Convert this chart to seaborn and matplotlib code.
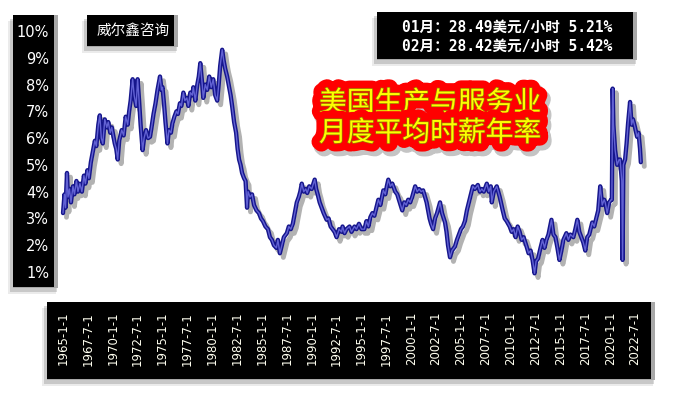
import matplotlib
matplotlib.use("Agg")
import matplotlib.pyplot as plt
import matplotlib.patheffects as pe
from matplotlib.patches import Rectangle
import seaborn as sns

# wage growth (yoy %), vertices
years = [
    1965.00, 1965.15, 1965.25, 1965.40, 1965.50, 1965.65, 1965.80,
    1966.00, 1966.15, 1966.35, 1966.50, 1966.70, 1966.90,
    1967.10, 1967.25, 1967.45, 1967.60, 1967.80,
    1968.00, 1968.20, 1968.35, 1968.55, 1968.70, 1968.85,
    1969.00, 1969.20, 1969.40, 1969.55, 1969.75, 1969.90,
    1970.05, 1970.20, 1970.35, 1970.50, 1970.65, 1970.90,
    1971.10, 1971.30, 1971.50, 1971.65, 1971.80,
    1972.00, 1972.15, 1972.35, 1972.50, 1972.65, 1972.80,
    1973.00, 1973.15, 1973.35, 1973.55, 1973.75, 1973.90,
    1974.10, 1974.30, 1974.50, 1974.75, 1974.90,
    1975.00, 1975.15, 1975.30, 1975.50, 1975.65, 1975.85,
    1976.00, 1976.20, 1976.40, 1976.55, 1976.75, 1976.90,
    1977.10, 1977.25, 1977.45, 1977.60, 1977.80,
    1978.00, 1978.10, 1978.30, 1978.50, 1978.65, 1978.80, 1978.95,
    1979.10, 1979.30, 1979.50, 1979.70, 1979.90,
    1980.10, 1980.30, 1980.50, 1980.65, 1980.80,
    1981.00, 1981.15, 1981.30, 1981.50, 1981.70, 1981.85,
    1982.00, 1982.20, 1982.40, 1982.55, 1982.70, 1982.85,
    1983.00, 1983.20, 1983.35, 1983.50, 1983.60, 1983.80,
    1984.00, 1984.20, 1984.45, 1984.70, 1984.90,
    1985.10, 1985.35, 1985.60, 1985.80,
    1986.00, 1986.20, 1986.45, 1986.60, 1986.80,
    1987.00, 1987.20, 1987.50, 1987.70, 1987.90,
    1988.10, 1988.30, 1988.50, 1988.70, 1988.85,
    1989.00, 1989.20, 1989.40, 1989.55, 1989.75,
    1990.00, 1990.30, 1990.45, 1990.60, 1990.80,
    1991.00, 1991.20, 1991.50, 1991.70, 1991.90,
    1992.10, 1992.30, 1992.50, 1992.75,
    1993.00, 1993.10, 1993.30, 1993.50, 1993.80,
    1994.00, 1994.30, 1994.50, 1994.75,
    1995.00, 1995.30, 1995.50, 1995.70, 1995.90,
    1996.10, 1996.30, 1996.50, 1996.70, 1996.90,
    1997.20, 1997.40, 1997.55, 1997.70, 1997.90,
    1998.10, 1998.20, 1998.40, 1998.60, 1998.85,
    1999.10, 1999.30, 1999.50, 1999.70, 1999.90,
    2000.10, 2000.40, 2000.60, 2000.80,
    2001.00, 2001.20, 2001.40, 2001.55, 2001.70, 2001.85,
    2002.00, 2002.20, 2002.40, 2002.60, 2002.90,
    2003.10, 2003.40, 2003.55, 2003.70, 2003.90,
    2004.10, 2004.40, 2004.60, 2004.80,
    2005.00, 2005.20, 2005.40, 2005.60, 2005.80,
    2006.00, 2006.20, 2006.40, 2006.70, 2006.90,
    2007.10, 2007.30, 2007.60, 2007.80,
    2008.00, 2008.10, 2008.30, 2008.60, 2008.90,
    2009.20, 2009.40, 2009.60, 2009.90,
    2010.10, 2010.30, 2010.50, 2010.70, 2010.90,
    2011.10, 2011.30, 2011.60, 2011.80,
    2012.00, 2012.20, 2012.40, 2012.55, 2012.75,
    2013.00, 2013.20, 2013.40, 2013.60, 2013.80,
    2014.10, 2014.30, 2014.50, 2014.70, 2014.90,
    2015.10, 2015.30, 2015.60, 2015.80,
    2016.00, 2016.30, 2016.50, 2016.70, 2016.90,
    2017.10, 2017.30, 2017.50, 2017.70, 2017.90,
    2018.20, 2018.40, 2018.60, 2018.80,
    2019.00, 2019.20, 2019.40, 2019.50, 2019.70, 2019.90,
    2020.10, 2020.17, 2020.25, 2020.33, 2020.50, 2020.70, 2020.90,
    2021.00, 2021.17, 2021.25, 2021.33, 2021.50, 2021.65, 2021.80,
    2022.00, 2022.15, 2022.30, 2022.50, 2022.70, 2022.85,
    2023.00, 2023.08,
]
wage_yoy = [
    3.2, 3.9, 3.4, 4.7, 3.8, 4.1, 3.6,
    4.2, 3.9, 4.4, 4.0, 4.3, 4.0,
    4.6, 4.3, 4.8, 4.5, 5.1,
    5.5, 5.9, 5.7, 6.5, 6.85, 6.0,
    5.8, 6.7, 6.4, 6.6, 6.2, 6.4,
    6.1, 5.8, 5.6, 5.2, 5.9, 6.3,
    6.1, 6.8, 6.5, 7.0, 7.4,
    8.2, 7.6, 7.2, 8.2, 7.4, 6.5,
    5.55, 6.0, 6.3, 6.0, 6.05, 6.4,
    6.9, 7.3, 7.8, 8.3, 7.8,
    7.9, 7.3, 6.6, 5.8, 6.3, 6.2,
    6.55, 6.8, 7.0, 6.9, 7.3, 7.2,
    7.7, 7.4, 7.5, 7.2, 7.7,
    7.6, 7.9, 7.4, 8.0, 8.3, 8.8, 8.2,
    7.5, 8.0, 7.8, 8.3, 7.9,
    8.2, 7.6, 7.4, 8.0, 8.7,
    9.3, 8.9, 8.6, 8.3, 7.9, 7.6,
    7.2, 6.6, 6.2, 5.6, 5.2, 5.0,
    4.7, 4.5, 4.4, 3.4, 4.0, 3.8,
    3.9, 3.5, 3.3, 3.2, 3.0,
    2.9, 2.7, 2.6, 2.3,
    2.2, 2.0, 1.9, 2.2, 1.7,
    2.0, 2.3, 2.45, 2.7, 2.6,
    2.8, 3.2, 3.6, 3.8, 4.0,
    4.3, 4.0, 4.1, 3.95, 4.2,
    4.1, 4.45, 4.1, 3.9, 3.6,
    3.4, 3.2, 2.95, 3.0, 2.7,
    2.6, 2.5, 2.3, 2.6,
    2.5, 2.7, 2.45, 2.6, 2.7,
    2.5, 2.7, 2.6, 2.8,
    2.6, 2.6, 2.9, 2.7, 3.05,
    3.2, 3.1, 3.4, 3.7, 3.5,
    4.05, 3.9, 4.2, 4.45, 4.2,
    4.3, 4.2, 4.0, 3.9, 3.6,
    3.3, 3.6, 3.5, 3.7, 3.6,
    3.8, 4.2, 4.0, 4.1,
    4.0, 4.05, 3.8, 3.6, 3.3, 3.0,
    2.8, 2.6, 3.0, 3.2, 3.6,
    3.2, 2.85, 2.5, 2.0, 1.55,
    1.8, 1.95, 2.2, 2.4,
    2.6, 2.7, 2.9, 3.3, 3.6,
    3.9, 4.2, 4.1, 4.25, 4.0,
    4.1, 4.0, 4.3, 4.0,
    4.2, 3.6, 4.0, 4.2, 3.8,
    3.3, 3.0, 2.9, 2.7,
    2.5, 2.6, 2.3, 2.7, 2.5,
    2.2, 2.3, 1.95, 1.7,
    1.8, 1.45, 0.95, 1.4, 1.5,
    1.9, 2.2, 1.9, 2.2, 2.4,
    2.95, 2.4, 2.3, 1.9, 1.45,
    1.8, 2.2, 2.45, 2.2,
    2.4, 2.3, 2.6, 2.95, 2.5,
    2.3, 2.1, 1.8, 2.3, 2.4,
    2.85, 2.7, 3.0, 3.3,
    4.2, 3.5, 3.7, 3.6, 3.2, 3.6,
    3.7, 3.7, 7.85, 6.5, 5.55, 5.0, 5.2,
    5.2, 4.4, 1.45, 5.0, 5.2, 5.8, 6.55,
    7.35, 6.5, 6.7, 6.4, 6.05, 6.2,
    5.6, 5.1,
]

tick_years = [1965 + 2.5 * i for i in range(24)]
tick_labels = ["1965-1-1", "1967-7-1", "1970-1-1", "1972-7-1", "1975-1-1", "1977-7-1",
               "1980-1-1", "1982-7-1", "1985-1-1", "1987-7-1", "1990-1-1", "1992-7-1",
               "1995-1-1", "1997-7-1", "2000-1-1", "2002-7-1", "2005-1-1", "2007-7-1",
               "2010-1-1", "2012-7-1", "2015-1-1", "2017-7-1", "2020-1-1", "2022-7-1"]
pct_ticks = list(range(1, 11))
pct_labels = ["%d%%" % v for v in pct_ticks]

title = "美国生产与服务业\n月度平均时薪年率"
brand = "威尔鑫咨询"
latest = "01月：28.49美元/小时 5.21%\n02月：28.42美元/小时 5.42%"

sns.set_theme(style="white")
plt.rcParams["font.family"] = ["DejaVu Sans", "Noto Sans CJK SC"]

W, H = 678, 396
fig = plt.figure(figsize=(W / 100, H / 100), dpi=100)
fig.patch.set_facecolor("white")


def px_rect(x0, y0, x1, y1, **kw):
    r = Rectangle((x0 / W, 1 - y1 / H), (x1 - x0) / W, (y1 - y0) / H,
                  transform=fig.transFigure, zorder=-1, **kw)
    fig.add_artist(r)


def black_box(x0, y0, x1, y1):
    # soft drop shadow, grey bevel on the right, black face
    px_rect(x0 - 5, y0 + 6, x1 - 2, y1 + 6, color="black", alpha=0.08, lw=0)
    px_rect(x0 - 3, y0 + 4, x1 - 1, y1 + 4, color="black", alpha=0.15, lw=0)
    px_rect(x0, y0, x1, y1, color="#a8a8a8", lw=0)
    px_rect(x0, y0, x1 - 4, y1 - 1, color="black", lw=0)


black_box(13, 15, 58, 288)
black_box(47, 302, 655, 380)
black_box(87, 15, 178, 47)
black_box(377, 12, 637, 60)

# axes placed so 1% and 10% land where they are in the reference
ax = fig.add_axes([58 / W, (H - 285.4) / H, 602 / W, (285.4 - 17.6) / H])
ax.patch.set_alpha(0)

sns.lineplot(x=years, y=wage_yoy, ax=ax, sort=False, color="#6262d4", lw=1.0,
             path_effects=[pe.SimpleLineShadow(offset=(2.5, -3), shadow_color="black",
                                               alpha=0.3, linewidth=3.5),
                           pe.Stroke(linewidth=3.1, foreground="#16168c"),
                           pe.Normal()])

ax.set_xlim(1964.497, 2025.01)
ax.set_ylim(0.5, 10.5)
ax.set_yticks(pct_ticks, pct_labels)
ax.set_xticks(tick_years, tick_labels)
ax.tick_params(axis="y", length=0, pad=6.5, labelsize=10.5, labelcolor="white")
ax.tick_params(axis="x", length=0, pad=19, labelsize=8.5, labelcolor="#fffff0",
               labelrotation=90)
for s in ax.spines.values():
    s.set_visible(False)
ax.set_xlabel("")
ax.set_ylabel("")
ax.grid(False)

fig.text(133 / W, 1 - 31 / H, brand, color="white", fontsize=10.5,
         family=["Noto Sans CJK SC"], ha="center", va="center")
fig.text(507 / W, 1 - 36.5 / H, latest, color="white", fontsize=10.5, weight="bold",
         family=["DejaVu Sans Mono", "Noto Sans CJK SC"], ha="center", va="center",
         linespacing=1.3)
fig.text(430 / W, 1 - 118 / H, title, color="#ffff00", fontsize=20,
         family=["Noto Sans CJK SC"], ha="center", va="center", linespacing=1.0,
         path_effects=[pe.Stroke(linewidth=13, foreground="#c4c4c4", offset=(2, -3)),
                       pe.Stroke(linewidth=12, foreground="#ff0000"),
                       pe.Stroke(linewidth=1.0, foreground="#9a7a00"),
                       pe.Normal()])

fig.savefig("out.png", dpi=100)
